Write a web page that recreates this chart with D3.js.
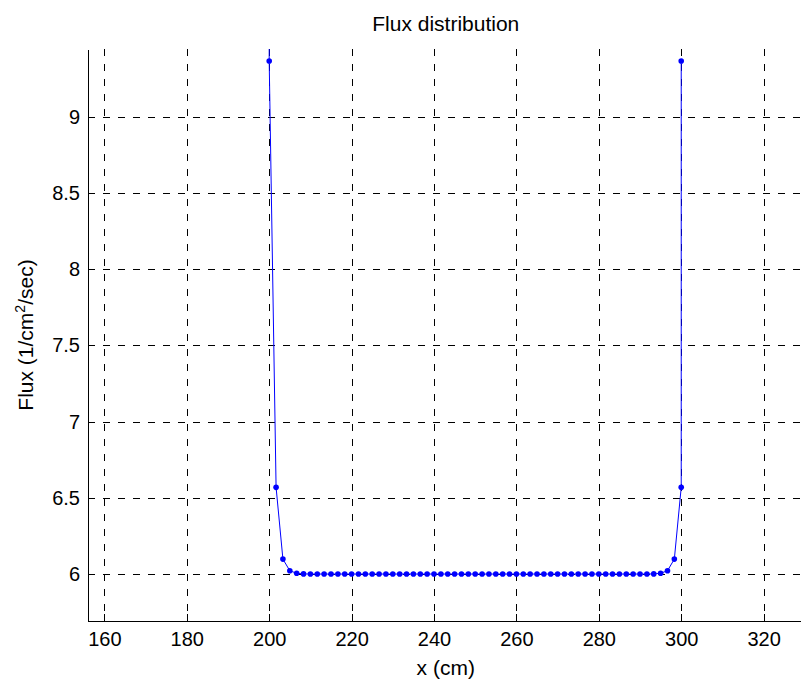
<!DOCTYPE html>
<html lang="en">
<head>
	<meta charset="UTF-8">
	<title>Flux distribution</title>
	<style>
		body { margin: 0; background: #fff; }
		svg { display: block; }
		.axis path, .axis line { stroke: #000; shape-rendering: crispEdges; }
		.axis text { font-family: "Liberation Sans", Arial, sans-serif; font-size: 20px; fill: #000; }
		.grid line { stroke: #000; stroke-dasharray: 7,8; shape-rendering: crispEdges; }
		.lbl { font-family: "Liberation Sans", Arial, sans-serif; font-size: 21px; fill: #000; }
	</style>
	<script src="https://d3js.org/d3.v7.min.js"></script>
</head>
<body>
	<script type="text/javascript">

		// data (extra end points run off the top of the axes)
		var xValues = [200, 200, 201.67, 203.33, 205, 206.67, 208.33, 210, 211.67, 213.33, 215,
			216.67, 218.33, 220, 221.67, 223.33, 225, 226.67, 228.33, 230, 231.67, 233.33, 235,
			236.67, 238.33, 240, 241.67, 243.33, 245, 246.67, 248.33, 250, 251.67, 253.33, 255,
			256.67, 258.33, 260, 261.67, 263.33, 265, 266.67, 268.33, 270, 271.67, 273.33, 275,
			276.67, 278.33, 280, 281.67, 283.33, 285, 286.67, 288.33, 290, 291.67, 293.33, 295,
			296.67, 298.33, 300, 300];
		var fluxValues = [10.5, 9.366, 6.569, 6.098, 6.022, 6.005, 6.001, 6, 6, 6, 6,
			6, 6, 6, 6, 6, 6, 6, 6, 6, 6, 6, 6,
			6, 6, 6, 6, 6, 6, 6, 6, 6, 6, 6, 6,
			6, 6, 6, 6, 6, 6, 6, 6, 6, 6, 6, 6,
			6, 6, 6, 6, 6, 6, 6, 6, 6, 6, 6.001, 6.005,
			6.022, 6.098, 6.569, 9.366, 10.5];
		var xTicks = [160, 180, 200, 220, 240, 260, 280, 300, 320];
		var yTicks = [6, 6.5, 7, 7.5, 8, 8.5, 9];

		const w = 801,
			  h = 684;
		const mLeft = 87.5, mRight = 804, mTop = 49, mBottom = 621;

		const svg = d3.select("body")
			.append("svg")
			.attr("width", w)
			.attr("height", h);

		var xScale = d3.scaleLinear()
			.domain([155.9, 329.8])
			.range([mLeft, mRight]);

		var yScale = d3.scaleLinear()
			.domain([5.692, 9.445])
			.range([mBottom, mTop]);

		svg.append("defs").append("clipPath").attr("id", "plotArea")
			.append("rect")
			.attr("x", mLeft).attr("y", mTop)
			.attr("width", mRight - mLeft).attr("height", mBottom - mTop);

		// dashed grid
		svg.append("g").attr("class", "grid")
			.selectAll("line").data(xTicks).enter()
			.append("line")
			.attr("x1", d => Math.round(xScale(d)) + 0.5)
			.attr("x2", d => Math.round(xScale(d)) + 0.5)
			.attr("y1", mTop).attr("y2", mBottom);

		svg.append("g").attr("class", "grid")
			.selectAll("line").data(yTicks).enter()
			.append("line")
			.attr("y1", d => Math.round(yScale(d)) + 0.5)
			.attr("y2", d => Math.round(yScale(d)) + 0.5)
			.attr("x1", mLeft).attr("x2", mRight);

		// axes, ticks pointing inward like matlab
		var xAxis = d3.axisBottom(xScale).tickValues(xTicks)
			.tickSizeInner(-7).tickSizeOuter(0).tickPadding(11)
			.tickFormat(d3.format("d"));
		svg.append("g")
			.attr("class", "axis x")
			.attr("transform", "translate(0," + mBottom + ")")
			.call(xAxis);

		var yAxis = d3.axisLeft(yScale).tickValues(yTicks)
			.tickSizeInner(-7).tickSizeOuter(0).tickPadding(7.5)
			.tickFormat(d => d);
		svg.append("g")
			.attr("class", "axis y")
			.attr("transform", "translate(" + mLeft + ",0)")
			.call(yAxis);

		var pts = xValues.map((x, i) => [x, fluxValues[i]]);

		var plot = svg.append("g").attr("clip-path", "url(#plotArea)");

		plot.append("path")
			.datum(pts)
			.attr("fill", "none")
			.attr("stroke", "#0000ff")
			.attr("stroke-width", 1)
			.attr("d", d3.line().x(d => xScale(d[0])).y(d => yScale(d[1])));

		plot.selectAll("circle")
			.data(pts).enter()
			.append("circle")
			.attr("cx", d => xScale(d[0]))
			.attr("cy", d => yScale(d[1]))
			.attr("r", 2.8)
			.attr("fill", "#0000ff");

		// title and labels
		svg.append("text").attr("class", "lbl")
			.attr("x", (mLeft + mRight) / 2).attr("y", 31)
			.attr("text-anchor", "middle")
			.text("Flux distribution");

		svg.append("text").attr("class", "lbl")
			.attr("x", (mLeft + mRight) / 2).attr("y", 675)
			.attr("text-anchor", "middle")
			.text("x (cm)");

		var yl = svg.append("text").attr("class", "lbl")
			.attr("transform", "translate(33," + (mTop + mBottom) / 2 + ") rotate(-90)")
			.attr("text-anchor", "middle");
		yl.append("tspan").text("Flux (1/cm");
		yl.append("tspan").attr("dy", -8).style("font-size", "14px").text("2");
		yl.append("tspan").attr("dy", 8).text("/sec)");

	</script>
</body>
</html>
